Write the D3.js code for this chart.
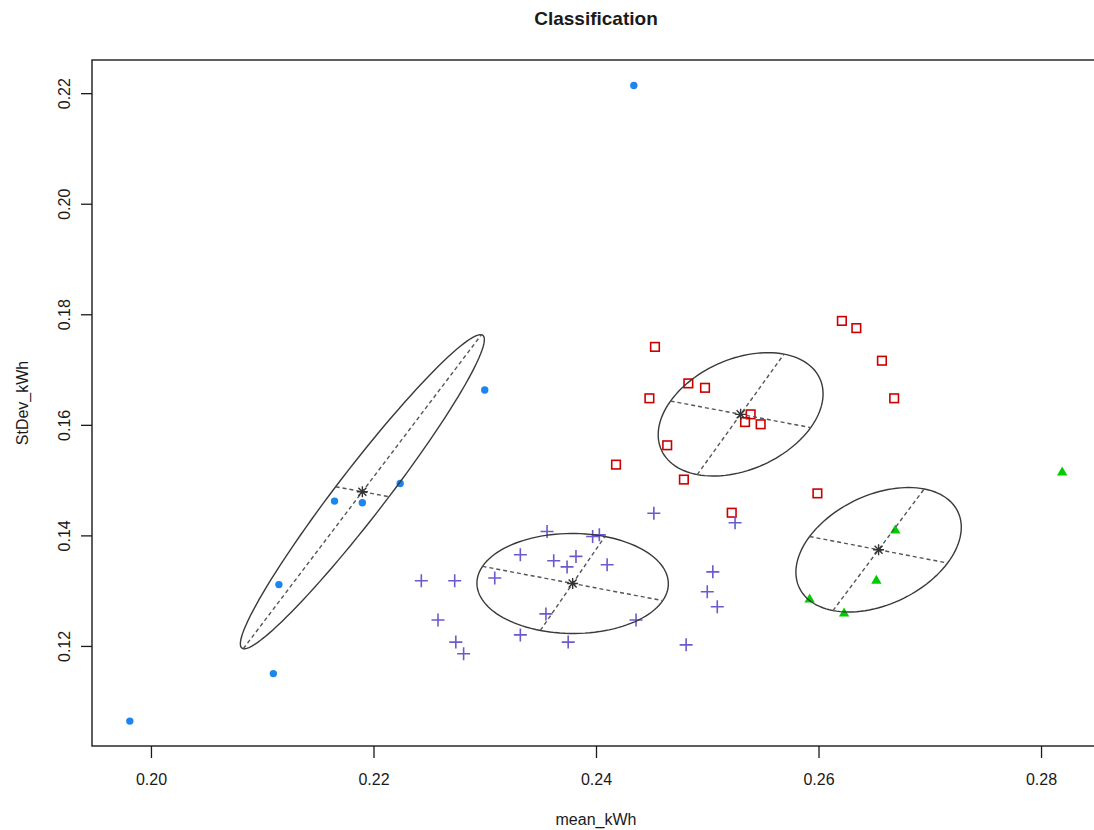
<!DOCTYPE html>
<html>
<head>
<meta charset="utf-8">
<script src="https://cdn.jsdelivr.net/npm/d3@7"></script>
<style>
  body { margin: 0; background: #fff; }
  svg { display: block; font-family: "Liberation Sans", Arial, sans-serif; }
</style>
</head>
<body>
<svg id="chart" width="1094" height="830"></svg>
<script>
// axis limits and ticks (R pads the data range by 4%)
const xLimits = [0.1947, 0.2853];
const yLimits = [0.1019, 0.2260];
const xTicks = [0.20, 0.22, 0.24, 0.26, 0.28];
const yTicks = [0.12, 0.14, 0.16, 0.18, 0.20, 0.22];

// class 1 - blue dots
const c1X = [0.2434, 0.2300, 0.2224, 0.2165, 0.2190, 0.2115, 0.2110, 0.1981];
const c1Y = [0.2214, 0.1663, 0.1494, 0.1462, 0.1459, 0.1311, 0.1150, 0.1064];

// class 2 - red open squares
const c2X = [0.2453, 0.2621, 0.2634, 0.2657, 0.2668, 0.2483, 0.2498, 0.2448,
             0.2539, 0.2534, 0.2548, 0.2464, 0.2418, 0.2479, 0.2599, 0.2522];
const c2Y = [0.1741, 0.1788, 0.1775, 0.1716, 0.1648, 0.1675, 0.1667, 0.1648,
             0.1619, 0.1605, 0.1601, 0.1563, 0.1528, 0.1501, 0.1476, 0.1441];

// class 3 - green triangles
const c3X = [0.2819, 0.2669, 0.2652, 0.2592, 0.2623];
const c3Y = [0.1515, 0.1410, 0.1319, 0.1285, 0.1260];

// class 4 - slateblue crosses
const c4X = [0.2243, 0.2273, 0.2258, 0.2274, 0.2281, 0.2309, 0.2332, 0.2356,
             0.2362, 0.2374, 0.2382, 0.2397, 0.2403, 0.2410, 0.2355, 0.2332,
             0.2375, 0.2436, 0.2452, 0.2481, 0.2505, 0.2500, 0.2509, 0.2525];
const c4Y = [0.1318, 0.1318, 0.1247, 0.1207, 0.1186, 0.1323, 0.1365, 0.1407,
             0.1354, 0.1343, 0.1362, 0.1398, 0.1401, 0.1347, 0.1258, 0.1220,
             0.1207, 0.1247, 0.1440, 0.1202, 0.1334, 0.1298, 0.1271, 0.1423];

// ellipses: centre, end of first axis, end of second axis (classes 1..4)
const ellCX = [0.2190, 0.2530, 0.2654, 0.2379];
const ellCY = [0.1479, 0.1619, 0.1374, 0.1313];
const ellAX = [0.2297, 0.2593, 0.2716, 0.2460];
const ellAY = [0.1763, 0.1595, 0.1350, 0.1282];
const ellBX = [0.2214, 0.2569, 0.2695, 0.2408];
const ellBY = [0.1470, 0.1728, 0.1484, 0.1398];

const colours = ["#1C86EE", "#CD0000", "#00CD00", "#6A5ACD"];

var svg = d3.select("#chart");
var plotLeft = 92, plotRight = 1100, plotTop = 60, plotBottom = 746;

var x = d3.scaleLinear().domain(xLimits).range([plotLeft, plotRight]);
var y = d3.scaleLinear().domain(yLimits).range([plotBottom, plotTop]);

// title
svg.append("text")
  .attr("x", (plotLeft + plotRight) / 2)
  .attr("y", 25)
  .attr("text-anchor", "middle")
  .style("font-weight", "bold")
  .style("font-size", "19px")
  .style("fill", "#1a1a1a")
  .text("Classification");

// axes
var xAxis = svg.append("g")
  .attr("transform", "translate(0," + plotBottom + ")")
  .call(d3.axisBottom(x).tickValues(xTicks).tickFormat(d3.format(".2f")).tickSize(12));
xAxis.select(".domain").remove();
xAxis.selectAll("line").attr("stroke", "#1a1a1a").attr("stroke-width", 1.3);
xAxis.selectAll("text")
  .attr("dy", 0)
  .attr("y", 39)
  .style("font-size", "16px")
  .style("font-family", "'Liberation Sans', Arial, sans-serif")
  .style("fill", "#1a1a1a");

var yAxis = svg.append("g")
  .attr("transform", "translate(" + plotLeft + ",0)")
  .call(d3.axisLeft(y).tickValues(yTicks).tickFormat(d3.format(".2f")).tickSize(11));
yAxis.select(".domain").remove();
yAxis.selectAll("line").attr("stroke", "#1a1a1a").attr("stroke-width", 1.3);
yAxis.selectAll("text")
  .attr("x", 0)
  .attr("dy", 0)
  .attr("y", -22)
  .attr("transform", "rotate(-90)")
  .attr("text-anchor", "middle")
  .style("font-size", "16px")
  .style("font-family", "'Liberation Sans', Arial, sans-serif")
  .style("fill", "#1a1a1a");

// axis titles
svg.append("text")
  .attr("x", (plotLeft + plotRight) / 2)
  .attr("y", 825)
  .attr("text-anchor", "middle")
  .style("font-size", "16px")
  .style("fill", "#1a1a1a")
  .text("mean_kWh");

svg.append("text")
  .attr("transform", "translate(28," + (plotTop + plotBottom) / 2 + ") rotate(-90)")
  .attr("text-anchor", "middle")
  .style("font-size", "16px")
  .style("fill", "#1a1a1a")
  .text("StDev_kWh");

// box
svg.append("rect")
  .attr("x", plotLeft).attr("y", plotTop)
  .attr("width", plotRight - plotLeft).attr("height", plotBottom - plotTop)
  .attr("fill", "none").attr("stroke", "#1a1a1a").attr("stroke-width", 1.4);

var pts = svg.append("g");

function toPoints(xs, ys) {
  return xs.map(function (v, i) { return { x: v, y: ys[i] }; });
}

// class 1: filled dots
pts.selectAll("circle.c1")
  .data(toPoints(c1X, c1Y))
  .join("circle")
  .attr("class", "c1")
  .attr("cx", function (d) { return x(d.x); })
  .attr("cy", function (d) { return y(d.y); })
  .attr("r", 3.7)
  .attr("fill", colours[0]);

// class 2: open squares
pts.selectAll("rect.c2")
  .data(toPoints(c2X, c2Y))
  .join("rect")
  .attr("class", "c2")
  .attr("x", function (d) { return x(d.x) - 4.3; })
  .attr("y", function (d) { return y(d.y) - 4.3; })
  .attr("width", 8.6)
  .attr("height", 8.6)
  .attr("fill", "none")
  .attr("stroke", colours[1])
  .attr("stroke-width", 1.6);

// class 3: filled triangles
pts.selectAll("path.c3")
  .data(toPoints(c3X, c3Y))
  .join("path")
  .attr("class", "c3")
  .attr("d", function (d) {
    var cx = x(d.x), cy = y(d.y);
    return "M" + (cx - 5.2) + "," + (cy + 3.6) + "L" + (cx + 5.2) + "," + (cy + 3.6) +
      "L" + cx + "," + (cy - 5.4) + "Z";
  })
  .attr("fill", colours[2]);

// class 4: plus signs
pts.selectAll("path.c4")
  .data(toPoints(c4X, c4Y))
  .join("path")
  .attr("class", "c4")
  .attr("d", function (d) {
    var cx = x(d.x), cy = y(d.y), s = 6.5;
    return "M" + (cx - s) + "," + cy + "H" + (cx + s) + "M" + cx + "," + (cy - s) + "V" + (cy + s);
  })
  .attr("stroke", colours[3])
  .attr("stroke-width", 1.6)
  .attr("fill", "none");

// ellipses with their axes and centres
var ell = svg.append("g");
var angles = d3.range(0, 121).map(function (i) { return (i / 120) * 2 * Math.PI; });
var ellLine = d3.line().x(function (p) { return x(p[0]); }).y(function (p) { return y(p[1]); });

ellCX.forEach(function (cx, i) {
  var cy = ellCY[i];
  var ax = ellAX[i] - cx, ay = ellAY[i] - cy;
  var bx = ellBX[i] - cx, by = ellBY[i] - cy;

  var outline = angles.map(function (t) {
    return [cx + Math.cos(t) * ax + Math.sin(t) * bx, cy + Math.cos(t) * ay + Math.sin(t) * by];
  });
  ell.append("path")
    .attr("d", ellLine(outline))
    .attr("fill", "none")
    .attr("stroke", "#3a3a3a")
    .attr("stroke-width", 1.4);

  [[ax, ay], [bx, by]].forEach(function (v) {
    ell.append("line")
      .attr("x1", x(cx - v[0])).attr("y1", y(cy - v[1]))
      .attr("x2", x(cx + v[0])).attr("y2", y(cy + v[1]))
      .attr("stroke", "#555")
      .attr("stroke-width", 1.4)
      .attr("stroke-dasharray", "4,3");
  });

  // asterisk at the centre
  var px = x(cx), py = y(cy), s = 5.5, d = 4;
  ell.append("path")
    .attr("d", "M" + (px - s) + "," + py + "H" + (px + s) +
      "M" + px + "," + (py - s) + "V" + (py + s) +
      "M" + (px - d) + "," + (py - d) + "L" + (px + d) + "," + (py + d) +
      "M" + (px - d) + "," + (py + d) + "L" + (px + d) + "," + (py - d))
    .attr("stroke", "#333")
    .attr("stroke-width", 1.4)
    .attr("fill", "none");
});
</script>
</body>
</html>
